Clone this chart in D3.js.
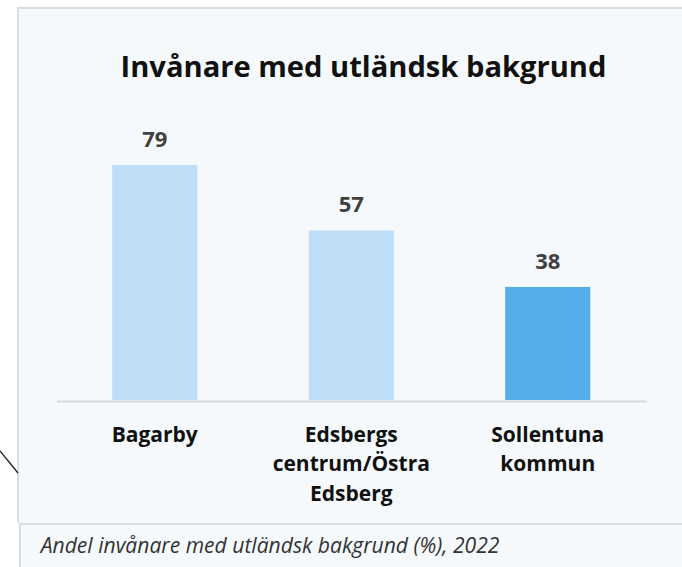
<!DOCTYPE html>
<html>
<head>
<meta charset="utf-8">
<script src="https://cdn.jsdelivr.net/npm/d3@7"></script>
<style>
  html, body { margin: 0; padding: 0; background: #ffffff; }
  svg { display: block; }
  text { font-family: "Open Sans", "Noto Sans", sans-serif; }
</style>
</head>
<body>
<svg id="chart" width="682" height="567"></svg>
<script>
// ---- Data ----
const categories = ["Bagarby", "Edsbergs centrum/Östra Edsberg", "Sollentuna kommun"];
const categoryLines = [["Bagarby"], ["Edsbergs", "centrum/Östra", "Edsberg"], ["Sollentuna", "kommun"]];
const values = [79, 57, 38];
const highlighted = [false, false, true];
const titleText = "Invånare med utländsk bakgrund";
const captionText = "Andel invånare med utländsk bakgrund (%), 2022";

// ---- Layout ----
const W = 682, H = 567;
const panelBg = "#F5F9FC", borderCol = "#DADCDE";
const lightBar = "#BDDEF6", darkBar = "#55AEE7";

const svg = d3.select("#chart");

// background panels
svg.append("rect").attr("x", 18).attr("y", 8).attr("width", W - 18).attr("height", 515).attr("fill", panelBg);
svg.append("line").attr("x1", 17).attr("x2", W).attr("y1", 8).attr("y2", 8).attr("stroke", borderCol).attr("stroke-width", 2);
svg.append("line").attr("x1", 18).attr("x2", 18).attr("y1", 8).attr("y2", 523).attr("stroke", borderCol).attr("stroke-width", 2);
svg.append("rect").attr("x", 20).attr("y", 524).attr("width", W - 20).attr("height", H - 524).attr("fill", panelBg);
svg.append("line").attr("x1", 19).attr("x2", W).attr("y1", 524).attr("y2", 524).attr("stroke", borderCol).attr("stroke-width", 2);
svg.append("line").attr("x1", 20).attr("x2", 20).attr("y1", 524).attr("y2", H).attr("stroke", borderCol).attr("stroke-width", 2);
// stray connector line at the left
svg.append("line").attr("x1", 0).attr("y1", 451).attr("x2", 18).attr("y2", 473).attr("stroke", "#222").attr("stroke-width", 1.3);

// scales
const x = d3.scaleBand().domain(categories).range([56.5, 646]).paddingInner(0.567).paddingOuter(0.2835);
const y = d3.scaleLinear().domain([0, 100]).range([400, 400 - 297.5]);

// title
const title = svg.append("text").attr("x", 363.5).attr("y", 77.3).attr("text-anchor", "middle")
  .attr("font-weight", 700).attr("font-size", 24).attr("fill", "#111").text(titleText);
function fitWidth(sel, target) {
  const w = sel.node().getComputedTextLength();
  const fs = parseFloat(sel.attr("font-size"));
  sel.attr("font-size", (fs * target / w).toFixed(2));
}
fitWidth(title, 486);

// bars
const g = svg.append("g");
g.selectAll("rect.bar").data(categories).join("rect").attr("class", "bar")
  .attr("x", d => x(d)).attr("width", x.bandwidth())
  .attr("y", (d, i) => y(values[i])).attr("height", (d, i) => y(0) - y(values[i]))
  .attr("fill", (d, i) => highlighted[i] ? darkBar : lightBar);

// value labels
g.selectAll("text.val").data(categories).join("text").attr("class", "val")
  .attr("x", d => x(d) + x.bandwidth() / 2).attr("y", (d, i) => y(values[i]) - 18)
  .attr("text-anchor", "middle").attr("font-weight", 700).attr("font-size", 22).attr("fill", "#404040")
  .text((d, i) => values[i]);

// axis
const axis = svg.append("g").attr("transform", "translate(0,401)").call(d3.axisBottom(x).tickSize(0).tickFormat(""));
axis.select(".domain").attr("stroke", "#D9D9D9").attr("stroke-width", 2);
axis.selectAll(".tick text").each(function (d, i) {
  const t = d3.select(this).attr("y", 0).attr("dy", null)
    .attr("font-family", "\"Open Sans\", sans-serif").attr("font-weight", 700).attr("font-size", 21).attr("fill", "#111");
  t.selectAll("tspan").data(categoryLines[categories.indexOf(d)]).join("tspan")
    .attr("x", 0).attr("y", (s, j) => 40.7 + j * 29.5).text(s => s);
});

// caption
const cap = svg.append("text").attr("x", 40.7).attr("y", 553.3).attr("font-style", "italic")
  .attr("font-size", 16).attr("fill", "#333").text(captionText);
fitWidth(cap, 459);
</script>
</body>
</html>
